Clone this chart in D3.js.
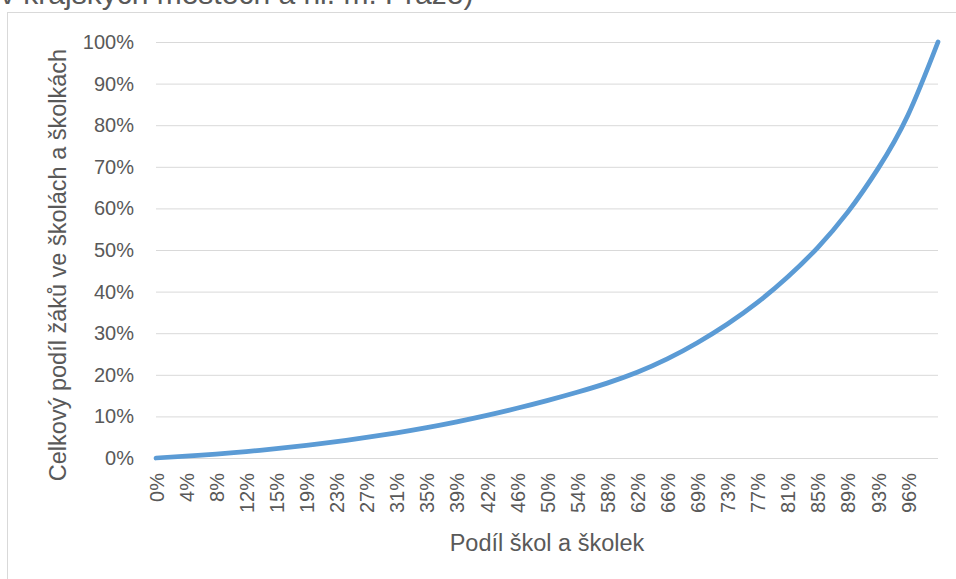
<!DOCTYPE html>
<html>
<head>
<meta charset="utf-8">
<script src="https://cdn.jsdelivr.net/npm/d3@7"></script>
<style>
  body { margin: 0; background: #fff; }
  svg { display: block; font-family: 'Liberation Sans', Arial, sans-serif; }
</style>
</head>
<body>
<div id="viz"></div>
<script>
// podíl škol (x) a kumulativní podíl žáků (y)
let schoolShare = [0, 0.0385, 0.0769, 0.1154, 0.1538, 0.1923, 0.2308, 0.2692, 0.3077,
                   0.3462, 0.3846, 0.4231, 0.4615, 0.5, 0.5385, 0.5769, 0.6154, 0.6538,
                   0.6923, 0.7308, 0.7692, 0.8077, 0.8462, 0.8846, 0.9231, 0.9615, 1];
let pupilShare = [0, 0.0045, 0.0095, 0.0155, 0.0225, 0.0305, 0.0395, 0.0495, 0.0605,
                  0.073, 0.087, 0.1025, 0.1195, 0.138, 0.158, 0.180, 0.206, 0.238,
                  0.277, 0.322, 0.374, 0.435, 0.506, 0.591, 0.695, 0.824, 1];
let xLabels = ['0%', '4%', '8%', '12%', '15%', '19%', '23%', '27%', '31%', '35%', '39%',
               '42%', '46%', '50%', '54%', '58%', '62%', '66%', '69%', '73%', '77%',
               '81%', '85%', '89%', '93%', '96%'];
let yTicks = [0, 0.1, 0.2, 0.3, 0.4, 0.5, 0.6, 0.7, 0.8, 0.9, 1];

let titleText = 'v krajských městech a hl. m. Praze)',
    xTitle = 'Podíl škol a školek',
    yTitle = 'Celkový podíl žáků ve školách a školkách';

let W = 956, H = 579,
    margin = { top: 42, right: 18, bottom: 121, left: 156 },
    width = W - margin.left - margin.right,
    height = H - margin.top - margin.bottom;

let svg = d3.select('#viz').append('svg')
  .attr('width', W)
  .attr('height', H);

// rámeček grafu (oříznutý vpravo a dole)
svg.append('rect')
  .attr('x', 7.5)
  .attr('y', 12.5)
  .attr('width', 1000)
  .attr('height', 1000)
  .attr('fill', 'none')
  .attr('stroke', '#d9d9d9');

// nadpis - vidět je jen spodek druhého řádku
svg.append('text')
  .attr('x', 0)
  .attr('y', 4)
  .attr('font-size', '30px')
  .attr('fill', '#595959')
  .text(titleText);

let xScale = d3.scaleLinear()
  .domain([0, 1])
  .range([0, width]);

let yScale = d3.scaleLinear()
  .domain([0, 1])
  .range([height, 0]);

let g = svg.append('g')
  .attr('transform', 'translate(' + margin.left + ',' + margin.top + ')');

// mřížka
let yAxis = d3.axisLeft(yScale)
  .tickValues(yTicks)
  .tickSize(-width)
  .tickPadding(22)
  .tickFormat(d3.format('.0%'));

let yGuide = g.append('g').call(yAxis);
yGuide.select('.domain').remove();
yGuide.selectAll('line')
  .attr('stroke', '#d9d9d9')
  .attr('stroke-width', 1);
yGuide.selectAll('text')
  .attr('fill', '#595959')
  .attr('font-size', '20px')
  .attr('font-family', 'Liberation Sans, Arial, sans-serif');

// popisky osy x
let xAxis = d3.axisBottom(xScale)
  .tickValues(schoolShare.slice(0, xLabels.length))
  .tickSize(0)
  .tickFormat(function(d, i) { return xLabels[i]; });

let xGuide = g.append('g')
  .attr('transform', 'translate(0,' + height + ')')
  .call(xAxis);
xGuide.select('.domain').remove();
xGuide.selectAll('text')
  .attr('fill', '#595959')
  .attr('font-size', '20px')
  .attr('font-family', 'Liberation Sans, Arial, sans-serif')
  .attr('text-anchor', 'end')
  .attr('transform', 'rotate(-90)')
  .attr('x', -15)
  .attr('y', 0)
  .attr('dy', '0.36em');

let line = d3.line()
  .x(function(d, i) { return xScale(schoolShare[i]); })
  .y(function(d) { return yScale(d); })
  .curve(d3.curveNatural);

g.append('path')
  .datum(pupilShare)
  .attr('fill', 'none')
  .attr('stroke', '#5b9bd5')
  .attr('stroke-width', 4.75)
  .attr('stroke-linecap', 'round')
  .attr('d', line);

svg.append('text')
  .attr('x', margin.left + width / 2)
  .attr('y', 551)
  .attr('text-anchor', 'middle')
  .attr('font-size', '23.5px')
  .attr('fill', '#595959')
  .text(xTitle);

svg.append('text')
  .attr('transform', 'translate(66,265) rotate(-90)')
  .attr('text-anchor', 'middle')
  .attr('font-size', '23.5px')
  .attr('fill', '#595959')
  .text(yTitle);
</script>
</body>
</html>
